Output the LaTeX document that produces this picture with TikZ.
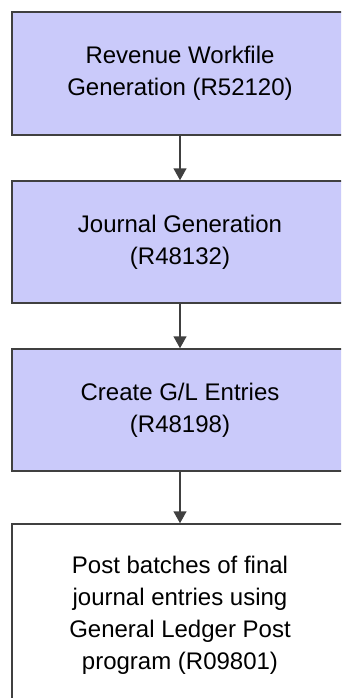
\documentclass[tikz,border=0pt]{standalone}
\usepackage{fontspec}
\setmainfont{Liberation Sans}
\usetikzlibrary{arrows.meta}
\definecolor{boxfill}{HTML}{CACAFA}
\definecolor{edge}{HTML}{404040}
\tikzset{
  procbox/.style={draw=edge, line width=1.5pt, minimum width=336pt, align=center,
    font=\fontsize{24}{32}\selectfont, inner sep=0pt},
  arr/.style={draw=edge, line width=1.5pt, -{Triangle[length=12pt,width=13pt]}}
}
\begin{document}
\begin{tikzpicture}[x=1pt,y=-1pt]
\useasboundingbox (0,0) rectangle (341,698);
\clip (0,0) rectangle (341,698);
\node[procbox, fill=boxfill, minimum height=123pt] (b1) at (180,73.5) {Revenue Workfile\\Generation (R52120)};
\node[procbox, fill=boxfill, minimum height=122pt] (b2) at (180,242) {Journal Generation\\(R48132)};
\node[procbox, fill=boxfill, minimum height=122pt] (b3) at (180,410) {Create G/L Entries\\(R48198)};
\node[procbox, fill=white, minimum height=182pt] (b4) at (180,615) {Post batches of final\\journal entries using\\General Ledger Post\\program (R09801)};
\draw[arr] (b1.south) -- (b2.north);
\draw[arr] (b2.south) -- (b3.north);
\draw[arr] (b3.south) -- (b4.north);
\end{tikzpicture}
\end{document}
